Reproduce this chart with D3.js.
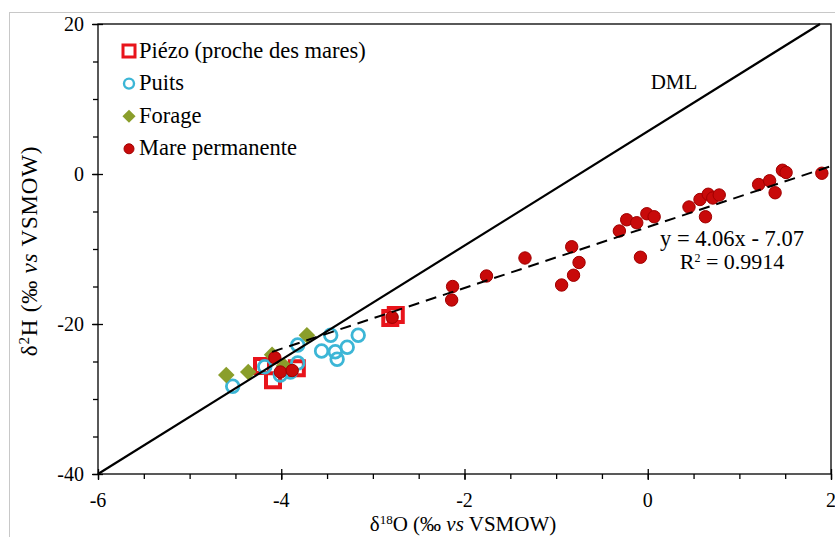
<!DOCTYPE html>
<html>
<head>
<meta charset="utf-8">
<script src="https://cdn.jsdelivr.net/npm/d3@7"></script>
<style>
  body { margin: 0; background: #fff; }
  text { fill: #000; }
</style>
</head>
<body>
<script>
// samples, [d18O, d2H]
const piezo = [[-4.21, -25.6], [-4.09, -27.5], [-3.83, -25.9], [-2.81, -19.2], [-2.75, -18.8]];
const puits = [[-4.53, -28.3], [-4.18, -25.7], [-4.01, -26.8], [-3.90, -26.4], [-3.82, -25.2],
    [-3.82, -22.8], [-3.56, -23.6], [-3.46, -21.5], [-3.41, -23.7], [-3.39, -24.7],
    [-3.28, -23.1], [-3.16, -21.5]];
const forage = [[-4.60, -26.8], [-4.36, -26.4], [-4.10, -24.1], [-3.97, -25.6], [-3.72, -21.5]];
const mare = [[-4.07, -24.5], [-4.01, -26.4], [-3.88, -26.2], [-2.79, -19.1],
    [-2.13, -15.0], [-2.14, -16.8], [-1.76, -13.6], [-1.34, -11.2], [-0.83, -9.7],
    [-0.75, -11.8], [-0.81, -13.5], [-0.94, -14.8], [-0.31, -7.6], [-0.23, -6.1],
    [-0.12, -6.5], [-0.08, -11.1], [-0.01, -5.3], [0.07, -5.7], [0.45, -4.4],
    [0.57, -3.4], [0.66, -2.7], [0.71, -3.2], [0.78, -2.8], [0.63, -5.7],
    [1.21, -1.4], [1.33, -0.9], [1.39, -2.5], [1.47, 0.5], [1.51, 0.2], [1.90, 0.1]];

const dml = [[-6, -40], [1.88, 20]];
const fit = {slope: 4.06, intercept: -7.07, r2: 0.9914, xFrom: -4.1, xTo: 2};

const xTicks = [-6, -4, -2, 0, 2];
const yTicks = [-40, -20, 0, 20];
const legendNames = ["Piézo (proche des mares)", "Puits", "Forage", "Mare permanente"];

const W = 835, H = 537;
const plot = {left: 98, right: 831, top: 24, bottom: 474};
const serif = "'Liberation Serif', 'Times New Roman', serif";

const svg = d3.select("body").append("svg")
    .attr("width", W)
    .attr("height", H)
    .attr("font-family", serif);

// chart area border (only top/left visible in the crop)
svg.append("rect")
    .attr("x", 9.5).attr("y", 12.5)
    .attr("width", 900).attr("height", 600)
    .attr("fill", "none").attr("stroke", "#c8c8c8");

const x = d3.scaleLinear().domain([-6, 2]).range([plot.left, plot.right]);
const y = d3.scaleLinear().domain([-40, 20]).range([plot.bottom, plot.top]);

// plot frame
svg.append("rect")
    .attr("x", plot.left).attr("y", plot.top)
    .attr("width", plot.right - plot.left).attr("height", plot.bottom - plot.top)
    .attr("fill", "none").attr("stroke", "#000").attr("stroke-width", 1.3);

// x axis: minor ticks outside, major ticks cross
let xAxisG = svg.append("g").attr("transform", "translate(0," + plot.bottom + ")");
xAxisG.call(d3.axisBottom(x).tickValues(d3.range(-6, 2.01, 0.5)).tickSize(5).tickFormat(""))
    .call(g => g.select(".domain").remove());
xAxisG.append("g")
    .call(d3.axisBottom(x).tickValues(xTicks).tickSize(6).tickFormat(""))
    .call(g => g.select(".domain").remove());
xAxisG.append("g")
    .call(d3.axisTop(x).tickValues(xTicks).tickSize(5).tickFormat(""))
    .call(g => g.select(".domain").remove());
xAxisG.selectAll("line").attr("stroke", "#000").attr("stroke-width", 1.3);

svg.append("g").selectAll("text")
    .data(xTicks)
    .enter()
    .append("text")
    .attr("x", d => x(d))
    .attr("y", 507)
    .attr("text-anchor", "middle")
    .style("font-family", serif)
    .style("font-size", "20px")
    .text(d => d);

// y axis
let yAxisG = svg.append("g").attr("transform", "translate(" + plot.left + ",0)");
yAxisG.call(d3.axisLeft(y).tickValues(d3.range(-40, 20.01, 5)).tickSize(5).tickFormat(""))
    .call(g => g.select(".domain").remove());
yAxisG.append("g")
    .call(d3.axisRight(y).tickValues(yTicks).tickSize(5).tickFormat(""))
    .call(g => g.select(".domain").remove());
yAxisG.append("g")
    .call(d3.axisLeft(y).tickValues(yTicks).tickSize(6).tickFormat(""))
    .call(g => g.select(".domain").remove());
yAxisG.selectAll("line").attr("stroke", "#000").attr("stroke-width", 1.3);

svg.append("g").selectAll("text")
    .data(yTicks)
    .enter()
    .append("text")
    .attr("x", 84)
    .attr("y", d => y(d) + 7)
    .attr("text-anchor", "end")
    .style("font-family", serif)
    .style("font-size", "20px")
    .text(d => d);

// axis titles
let xTitle = svg.append("text")
    .attr("x", 463).attr("y", 531)
    .attr("text-anchor", "middle")
    .style("font-family", serif)
    .style("font-size", "21px");
xTitle.append("tspan").text("δ");
xTitle.append("tspan").attr("dy", -7).style("font-size", "13px").text("18");
xTitle.append("tspan").attr("dy", 7).text("O (‰ ");
xTitle.append("tspan").style("font-style", "italic").text("vs");
xTitle.append("tspan").text(" VSMOW)");

let yTitle = svg.append("text")
    .attr("transform", "translate(37," + 251 + ") rotate(-90)")
    .attr("text-anchor", "middle")
    .style("font-family", serif)
    .style("font-size", "23px")
    .style("letter-spacing", "0.8px");
yTitle.append("tspan").text("δ");
yTitle.append("tspan").attr("dy", -8).style("font-size", "15px").text("2");
yTitle.append("tspan").attr("dy", 8).text("H (‰ ");
yTitle.append("tspan").style("font-style", "italic").text("vs");
yTitle.append("tspan").text(" VSMOW)");

// markers
const diamond = d3.symbol().type(d3.symbolDiamond2).size(175);

svg.append("g").selectAll("rect")
    .data(piezo)
    .enter()
    .append("rect")
    .attr("x", d => x(d[0]) - 7)
    .attr("y", d => y(d[1]) - 7)
    .attr("width", 14).attr("height", 14)
    .attr("fill", "#fff").attr("stroke", "#e8141b").attr("stroke-width", 4);

svg.append("g").selectAll("circle")
    .data(puits)
    .enter()
    .append("circle")
    .attr("cx", d => x(d[0]))
    .attr("cy", d => y(d[1]))
    .attr("r", 6.3)
    .attr("fill", "none").attr("stroke", "#3cb6d6").attr("stroke-width", 2.8);

svg.append("g").selectAll("path")
    .data(forage)
    .enter()
    .append("path")
    .attr("transform", d => "translate(" + x(d[0]) + "," + y(d[1]) + ")")
    .attr("d", diamond)
    .attr("fill", "#8a9e2b");

svg.append("g").selectAll("circle")
    .data(mare)
    .enter()
    .append("circle")
    .attr("cx", d => x(d[0]))
    .attr("cy", d => y(d[1]))
    .attr("r", 6.2)
    .attr("fill", "#c80a0a").attr("stroke", "#a00000").attr("stroke-width", 1);

// DML
svg.append("line")
    .attr("x1", x(dml[0][0])).attr("y1", y(dml[0][1]))
    .attr("x2", x(dml[1][0])).attr("y2", y(dml[1][1]))
    .attr("stroke", "#000").attr("stroke-width", 2.2);

// regression
svg.append("line")
    .attr("x1", x(fit.xFrom)).attr("y1", y(fit.slope * fit.xFrom + fit.intercept))
    .attr("x2", x(fit.xTo)).attr("y2", y(fit.slope * fit.xTo + fit.intercept))
    .attr("stroke", "#000").attr("stroke-width", 2)
    .attr("stroke-dasharray", "11,7");

svg.append("text")
    .attr("x", 674).attr("y", 89)
    .attr("text-anchor", "middle")
    .style("font-family", serif)
    .style("font-size", "21px")
    .text("DML");

svg.append("text")
    .attr("x", 732).attr("y", 246)
    .attr("text-anchor", "middle")
    .style("font-family", serif)
    .style("font-size", "22.5px")
    .text("y = " + fit.slope.toFixed(2) + "x - " + Math.abs(fit.intercept).toFixed(2));

let r2 = svg.append("text")
    .attr("x", 732).attr("y", 269)
    .attr("text-anchor", "middle")
    .style("font-family", serif)
    .style("font-size", "22px");
r2.append("tspan").text("R");
r2.append("tspan").attr("dy", -7).style("font-size", "12px").text("2");
r2.append("tspan").attr("dy", 7).text(" = " + fit.r2);

// legend
let legend = svg.append("g").attr("transform", "translate(129,51)");
let rows = legend.selectAll("g")
    .data(legendNames)
    .enter()
    .append("g")
    .attr("transform", (d, i) => "translate(0," + (i * 32.6) + ")");

rows.append("text")
    .attr("x", 10)
    .attr("y", 6.5)
    .style("font-family", serif)
    .style("font-size", "22.5px")
    .text(d => d);

rows.filter((d, i) => i === 0).append("rect")
    .attr("x", -6).attr("y", -6).attr("width", 12).attr("height", 12)
    .attr("fill", "#fff").attr("stroke", "#e8141b").attr("stroke-width", 3);
rows.filter((d, i) => i === 1).append("circle")
    .attr("r", 5).attr("fill", "none").attr("stroke", "#3cb6d6").attr("stroke-width", 2.4);
rows.filter((d, i) => i === 2).append("path")
    .attr("d", d3.symbol().type(d3.symbolDiamond2).size(110))
    .attr("fill", "#8a9e2b");
rows.filter((d, i) => i === 3).append("circle")
    .attr("r", 5).attr("fill", "#c80a0a").attr("stroke", "#a00000");
</script>
</body>
</html>
